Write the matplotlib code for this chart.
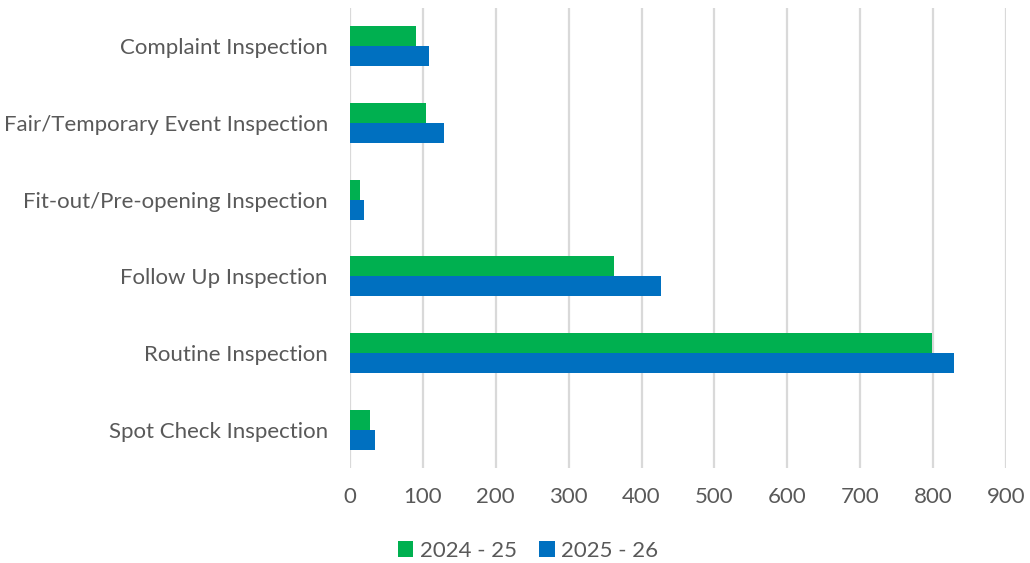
import matplotlib.pyplot as plt
import numpy as np

categories = ["Complaint Inspection", "Fair/Temporary Event Inspection",
              "Fit-out/Pre-opening Inspection", "Follow Up Inspection",
              "Routine Inspection", "Spot Check Inspection"]
series_names = ["2024 - 25", "2025 - 26"]
counts_2024 = [90, 104, 14, 362, 799, 28]
counts_2025 = [108, 129, 19, 426, 828, 34]
xticks = [0, 100, 200, 300, 400, 500, 600, 700, 800, 900]

GREEN = "#00B050"
BLUE = "#0070C0"
TEXT = "#595959"

plt.rcParams['font.family'] = ['Lato', 'DejaVu Sans']

fig = plt.figure(figsize=(10.3, 5.63), dpi=100)
ax = fig.add_axes([350 / 1030, 1 - 468 / 563, 656 / 1030, 460 / 563])

y = np.arange(len(categories))
h = 0.26
ax.barh(y - h / 2, counts_2024, height=h, color=GREEN, label=series_names[0], zorder=3)
ax.barh(y + h / 2, counts_2025, height=h, color=BLUE, label=series_names[1], zorder=3)

ax.set_xlim(0, 900)
ax.set_ylim(len(categories) - 0.5, -0.5)
ax.set_xticks(xticks)
ax.set_yticks(y)
ax.set_yticklabels(categories)
ax.tick_params(axis='both', length=0, labelsize=16, labelcolor=TEXT)
ax.tick_params(axis='y', pad=16)
ax.tick_params(axis='x', pad=14)
ax.grid(axis='x', color="#D9D9D9", linewidth=1.6, zorder=0)
for s in ax.spines.values():
    s.set_visible(False)

leg = fig.legend(loc='center', bbox_to_anchor=(528 / 1030, 1 - 551 / 563), ncol=2,
                 frameon=False, fontsize=16, handlelength=0.7, handleheight=0.7,
                 handletextpad=0.3, columnspacing=1.0)
for t in leg.get_texts():
    t.set_color(TEXT)

fig.savefig("out.png", dpi=100)
